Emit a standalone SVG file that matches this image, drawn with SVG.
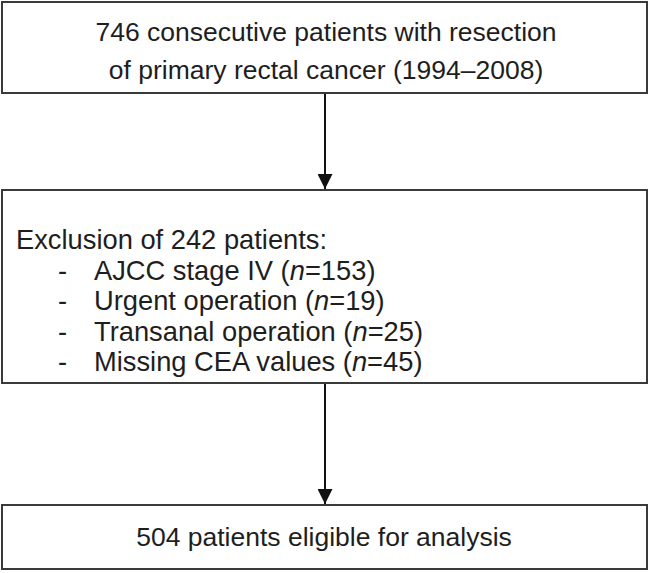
<svg xmlns="http://www.w3.org/2000/svg" width="650" height="573" viewBox="0 0 650 573">
<style>
.box{fill:#fff;stroke:#3a3a3a;stroke-width:2}
text{font-family:"Liberation Sans",Arial,sans-serif;font-size:26.5px;fill:#1e1e1e}
.l{font-size:27.3px}
.c{text-anchor:middle}
.line{stroke:#111;stroke-width:2;fill:none}
</style>
<defs>
<marker id="ah" viewBox="0 0 10 10" refX="10" refY="5" markerWidth="15" markerHeight="15" markerUnits="userSpaceOnUse" orient="auto">
<path d="M0,0 L10,5 L0,10 z" fill="#111"/>
</marker>
</defs>
<rect width="650" height="573" fill="#fff"/>
<g id="connectors">
<line class="line" x1="325" y1="93" x2="325" y2="189" marker-end="url(#ah)"/>
<line class="line" x1="325" y1="383" x2="325" y2="504" marker-end="url(#ah)"/>
</g>
<g id="n1">
<rect class="box" x="2" y="2" width="645" height="91"/>
<text class="c" x="326" y="41">746 consecutive patients with resection</text>
<text class="c" x="326" y="79">of primary rectal cancer (1994–2008)</text>
</g>
<g id="n2">
<rect class="box" x="2" y="190" width="645" height="193"/>
<text class="l" x="16" y="249">Exclusion of 242 patients:</text>
<text class="l" x="58" y="280">-</text><text class="l" x="94" y="280">AJCC stage IV (<tspan font-style="italic">n</tspan>=153)</text>
<text class="l" x="58" y="310">-</text><text class="l" x="94" y="310">Urgent operation (<tspan font-style="italic">n</tspan>=19)</text>
<text class="l" x="58" y="341">-</text><text class="l" x="94" y="341">Transanal operation (<tspan font-style="italic">n</tspan>=25)</text>
<text class="l" x="58" y="371">-</text><text class="l" x="94" y="371">Missing CEA values (<tspan font-style="italic">n</tspan>=45)</text>
</g>
<g id="n3">
<rect class="box" x="2" y="505" width="645" height="64"/>
<text class="c" x="324" y="546">504 patients eligible for analysis</text>
</g>
</svg>
